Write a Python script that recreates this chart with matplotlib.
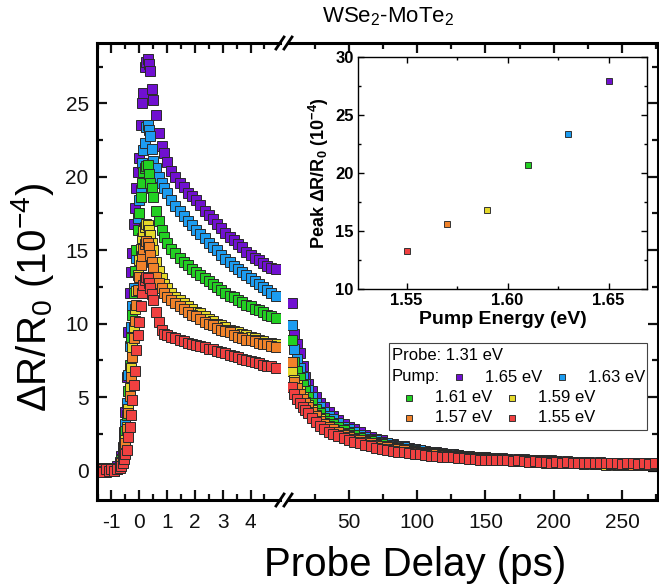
import matplotlib
matplotlib.use('Agg')
import matplotlib.pyplot as plt
from matplotlib.patches import Rectangle
from matplotlib.lines import Line2D
from matplotlib.ticker import MultipleLocator, FixedLocator

plt.rcParams['font.family'] = ['Liberation Sans', 'DejaVu Sans']
plt.rcParams['mathtext.fontset'] = 'custom'
plt.rcParams['mathtext.rm'] = 'Liberation Sans'
plt.rcParams['mathtext.default'] = 'regular'
plt.rcParams['axes.unicode_minus'] = False

# probe delay (ps), short window before the axis break
t_short = [-1.5, -1.4, -1.3, -1.2, -1.1, -1.0, -0.9, -0.8,
           -0.7, -0.65, -0.6, -0.55, -0.5, -0.45, -0.4, -0.35, -0.3, -0.25,
           -0.2, -0.15, -0.1, -0.05, 0.0, 0.05, 0.1, 0.15, 0.2, 0.25, 0.3,
           0.35, 0.4, 0.45, 0.5, 0.6, 0.7, 0.8, 0.9, 1.0,
           1.15, 1.3, 1.45, 1.6, 1.75, 1.9, 2.05, 2.2, 2.35, 2.5, 2.65, 2.8,
           2.95, 3.1, 3.25, 3.4, 3.55, 3.7, 3.85, 4.0, 4.15, 4.3, 4.45, 4.6,
           4.75, 4.9]
# probe delay (ps), long window after the axis break
t_long = [8, 10, 12, 14, 16, 18, 20, 23, 26, 29, 32, 35, 38, 42, 46, 50,
          54, 58, 62, 66, 70, 74, 78, 82, 86, 90, 94, 98, 102, 106, 110, 114,
          118, 122, 126, 130, 134, 138, 142, 146, 150, 154, 158, 162, 166, 170,
          174, 178, 182, 186, 190, 194, 198, 202, 206, 210, 214, 218, 222, 226,
          230, 234, 238, 242, 246, 250, 254, 258, 262, 266, 270, 274]

pump_labels = ['1.65 eV', '1.63 eV', '1.61 eV', '1.59 eV', '1.57 eV', '1.55 eV']
colors = ['#7010d0', '#1c9cf0', '#22d022', '#e4d82a', '#f0822a', '#f04040']

# dR/R0 (1e-4), short window
short_165 = [0.2, 0.0, 0.1, 0.2, 0.0, 0.1, 0.2, 0.3,
             0.6, 1.0, 1.6, 2.6, 4.0, 6.4, 9.4, 12.1, 13.5, 14.8,
             16.8, 17.9, 19.2, 20.3, 21.3, 23.5, 25.0, 25.7, 27.5, 27.8, 28.0,
             27.7, 27.2, 26.0, 25.2, 24.2, 23.0, 22.1, 21.6, 21.0,
             20.4, 20.0, 19.6, 19.3, 18.9, 18.7, 18.4, 18.1, 17.7, 17.4, 17.1, 16.8,
             16.5, 16.2, 15.9, 15.7, 15.4, 15.2, 14.9, 14.7, 14.5, 14.3, 14.1, 13.9,
             13.8, 13.7]
short_163 = [0.1, 0.2, 0.0, 0.1, 0.2, 0.1, 0.0, 0.2,
             0.5, 0.8, 1.3, 2.1, 3.2, 4.6, 6.5, 8.5, 9.8, 11.2,
             12.4, 13.5, 14.5, 17.2, 18.4, 19.1, 20.9, 21.8, 22.3, 23.4, 23.5,
             23.2, 22.8, 21.9, 21.1, 20.6, 20.0, 19.6, 19.2, 18.9,
             18.4, 18.0, 17.7, 17.3, 17.0, 16.7, 16.4, 16.1, 15.8, 15.5, 15.2, 15.0,
             14.7, 14.4, 14.2, 13.9, 13.7, 13.5, 13.3, 13.1, 12.9, 12.7, 12.5, 12.3,
             12.1, 11.9]
short_161 = [0.2, 0.1, 0.0, 0.2, 0.1, 0.0, 0.1, 0.2,
             0.4, 0.7, 1.1, 1.8, 2.7, 3.8, 5.4, 7.2, 9.0, 10.6,
             12.1, 13.6, 15.0, 16.4, 17.5, 18.6, 19.6, 20.3, 20.6, 20.7, 20.8,
             20.2, 19.6, 19.2, 18.6, 17.7, 17.0, 16.4, 15.9, 15.5,
             15.1, 14.8, 14.5, 14.2, 14.0, 13.7, 13.5, 13.3, 13.1, 12.9, 12.7, 12.5,
             12.3, 12.1, 11.9, 11.8, 11.6, 11.5, 11.3, 11.2, 11.0, 10.9, 10.8, 10.6,
             10.5, 10.4]
short_159 = [0.1, 0.0, 0.2, 0.1, 0.0, 0.1, 0.1, 0.2,
             0.3, 0.6, 0.9, 1.4, 2.1, 3.0, 4.2, 5.6, 7.0, 8.4,
             9.8, 11.0, 12.2, 13.3, 14.3, 15.1, 15.8, 16.3, 16.6, 16.8, 16.7,
             16.4, 16.0, 15.5, 15.0, 14.2, 13.6, 13.1, 12.7, 12.4,
             12.1, 11.8, 11.6, 11.4, 11.2, 11.0, 10.8, 10.7, 10.5, 10.3, 10.2, 10.0,
             9.9, 9.8, 9.6, 9.5, 9.4, 9.3, 9.2, 9.1, 9.0, 8.9, 8.8, 8.7,
             8.7, 8.6]
short_157 = [0.0, 0.1, 0.0, -0.1, 0.1, 0.0, 0.1, 0.1,
             0.3, 0.5, 0.8, 1.3, 1.9, 2.8, 3.9, 5.1, 6.4, 7.7,
             9.0, 10.2, 11.3, 12.3, 13.2, 14.0, 14.6, 15.1, 15.4, 15.6, 15.5,
             15.2, 14.7, 14.2, 13.8, 13.2, 12.8, 12.4, 12.1, 11.8,
             11.6, 11.4, 11.2, 11.0, 10.8, 10.6, 10.5, 10.3, 10.1, 10.0, 9.9, 9.7,
             9.6, 9.5, 9.4, 9.2, 9.1, 9.0, 8.9, 8.9, 8.8, 8.7, 8.6, 8.6,
             8.5, 8.4]
short_155 = [0.1, 0.0, -0.1, 0.1, 0.0, 0.1, 0.0, 0.1,
             0.2, 0.3, 0.5, 0.8, 1.1, 1.4, 2.3, 3.0, 3.8, 4.8,
             5.8, 6.8, 8.2, 9.2, 10.1, 11.2, 12.1, 12.6, 13.0, 13.2, 13.1,
             12.8, 12.4, 12.0, 11.6, 10.8, 10.1, 9.6, 9.3, 9.2,
             9.1, 9.0, 8.9, 8.8, 8.7, 8.6, 8.55, 8.5, 8.4, 8.3, 8.25, 8.15,
             8.05, 8.0, 7.9, 7.8, 7.7, 7.6, 7.5, 7.45, 7.4, 7.3, 7.2, 7.15,
             7.1, 7.0]

# dR/R0 (1e-4), long window
long_165 = [11.4, 9.3, 8.6, 8.0, 7.1, 6.4, 5.9, 5.4, 5.0, 4.6, 4.3, 4.0, 3.75, 3.45, 3.2, 3.0,
            2.8, 2.6, 2.45, 2.3, 2.15, 2.05, 1.9, 1.8, 1.7, 1.65, 1.55, 1.5, 1.4, 1.35, 1.3, 1.25,
            1.2, 1.15, 1.1, 1.05, 1.0, 1.0, 0.95, 0.9, 0.9, 0.85, 0.8, 0.85, 0.8, 0.75,
            0.8, 0.7, 0.75, 0.7, 0.65, 0.7, 0.6, 0.65, 0.6, 0.55, 0.6, 0.55, 0.6, 0.5,
            0.55, 0.5, 0.55, 0.45, 0.5, 0.55, 0.45, 0.5, 0.5, 0.45, 0.5, 0.45]
long_163 = [9.9, 8.3, 7.6, 7.0, 6.4, 5.9, 5.5, 5.0, 4.6, 4.3, 4.0, 3.7, 3.5, 3.25, 3.0, 2.8,
            2.6, 2.45, 2.3, 2.15, 2.05, 1.95, 1.85, 1.75, 1.65, 1.6, 1.5, 1.45, 1.4, 1.3, 1.3, 1.2,
            1.15, 1.1, 1.1, 1.05, 1.0, 0.95, 0.95, 0.9, 0.9, 0.85, 0.85, 0.8, 0.8, 0.75,
            0.75, 0.8, 0.7, 0.75, 0.7, 0.65, 0.7, 0.65, 0.6, 0.65, 0.6, 0.6, 0.55, 0.6,
            0.55, 0.6, 0.5, 0.55, 0.55, 0.5, 0.55, 0.5, 0.55, 0.5, 0.5, 0.45]
long_161 = [8.9, 7.4, 6.8, 6.3, 5.8, 5.4, 5.0, 4.6, 4.2, 3.9, 3.6, 3.4, 3.2, 3.0, 2.75, 2.55,
            2.4, 2.25, 2.1, 2.0, 1.9, 1.8, 1.7, 1.6, 1.55, 1.5, 1.4, 1.35, 1.3, 1.25, 1.2, 1.15,
            1.1, 1.05, 1.0, 1.0, 0.95, 0.9, 0.9, 0.85, 0.85, 0.8, 0.8, 0.75, 0.75, 0.7,
            0.75, 0.7, 0.65, 0.7, 0.65, 0.6, 0.65, 0.6, 0.6, 0.55, 0.6, 0.55, 0.5, 0.55,
            0.5, 0.55, 0.5, 0.5, 0.45, 0.5, 0.45, 0.5, 0.4, 0.45, 0.4, 0.45]
long_159 = [6.8, 6.2, 5.8, 5.4, 5.0, 4.7, 4.45, 4.1, 3.8, 3.5, 3.25, 3.05, 2.85, 2.65, 2.5, 2.35,
            2.2, 2.1, 2.0, 1.9, 1.8, 1.7, 1.6, 1.55, 1.5, 1.4, 1.35, 1.3, 1.25, 1.2, 1.15, 1.1,
            1.05, 1.0, 1.0, 0.95, 0.9, 0.9, 0.85, 0.8, 0.8, 0.75, 0.75, 0.7, 0.7, 0.7,
            0.65, 0.65, 0.6, 0.6, 0.6, 0.55, 0.6, 0.55, 0.5, 0.55, 0.5, 0.5, 0.45, 0.5,
            0.45, 0.45, 0.4, 0.45, 0.4, 0.45, 0.4, 0.45, 0.4, 0.4, 0.35, 0.4]
long_157 = [7.4, 6.0, 5.6, 5.2, 4.9, 4.6, 4.35, 4.0, 3.7, 3.4, 3.15, 2.95, 2.8, 2.6, 2.45, 2.3,
            2.15, 2.05, 1.95, 1.85, 1.75, 1.65, 1.6, 1.5, 1.45, 1.4, 1.3, 1.25, 1.2, 1.15, 1.1, 1.1,
            1.05, 1.0, 0.95, 0.95, 0.9, 0.85, 0.85, 0.8, 0.8, 0.8, 0.75, 0.75, 0.7, 0.7,
            0.65, 0.7, 0.65, 0.6, 0.65, 0.6, 0.6, 0.55, 0.6, 0.55, 0.5, 0.55, 0.5, 0.55,
            0.45, 0.5, 0.5, 0.45, 0.5, 0.45, 0.5, 0.4, 0.45, 0.45, 0.4, 0.45]
long_155 = [5.7, 5.2, 4.9, 4.6, 4.3, 4.1, 3.9, 3.6, 3.3, 3.05, 2.85, 2.65, 2.5, 2.35, 2.2, 2.05,
            1.95, 1.85, 1.75, 1.65, 1.55, 1.5, 1.4, 1.35, 1.3, 1.25, 1.2, 1.15, 1.1, 1.05, 1.0, 1.0,
            0.95, 0.9, 0.9, 0.85, 0.85, 0.8, 0.8, 0.75, 0.75, 0.75, 0.7, 0.7, 0.7, 0.65,
            0.7, 0.65, 0.6, 0.65, 0.6, 0.6, 0.55, 0.6, 0.55, 0.6, 0.55, 0.5, 0.55, 0.5,
            0.55, 0.5, 0.5, 0.55, 0.5, 0.45, 0.5, 0.5, 0.45, 0.5, 0.45, 0.5]

short_all = [short_165, short_163, short_161, short_159, short_157, short_155]
long_all = [long_165, long_163, long_161, long_159, long_157, long_155]

# inset: peak signal vs pump energy
pump_energy = [1.65, 1.63, 1.61, 1.59, 1.57, 1.55]
peak_signal = [27.9, 23.4, 20.7, 16.8, 15.6, 13.3]

W, H = 659, 588
def box(x0, y0, x1, y1):
    return [x0 / W, 1 - y1 / H, (x1 - x0) / W, (y1 - y0) / H]

def fx(x):
    return x / W

def fy(y):
    return 1 - y / H

fig = plt.figure(figsize=(W / 100, H / 100), dpi=100)
ax1 = fig.add_axes(box(97, 43, 280, 500))
ax2 = fig.add_axes(box(288, 43, 658, 500), sharey=ax1)

for s_vals, l_vals, c in zip(short_all, long_all, colors):
    ax1.plot(t_short, s_vals, 's', ms=7.3, mfc=c, mec='#2a2a2a', mew=0.7)
    ax2.plot(t_long, l_vals, 's', ms=7.3, mfc=c, mec='#2a2a2a', mew=0.7)

ax1.set_xlim(-1.52, 5.06)
ax2.set_xlim(5.3, 276.4)
ax1.set_ylim(-2.0, 29.1)

ax1.xaxis.set_major_locator(FixedLocator([-1, 0, 1, 2, 3, 4]))
ax1.xaxis.set_minor_locator(FixedLocator([-1.5, -0.5, 0.5, 1.5, 2.5, 3.5, 4.5]))
ax2.xaxis.set_major_locator(MultipleLocator(50))
ax2.xaxis.set_minor_locator(MultipleLocator(25))
ax1.yaxis.set_major_locator(MultipleLocator(5))
ax1.yaxis.set_minor_locator(MultipleLocator(2.5))

for ax in (ax1, ax2):
    for sp in ax.spines.values():
        sp.set_linewidth(2.2)
    ax.tick_params(which='both', direction='in', width=1.6, labelsize=15,
                   colors='#111111', top=True)
    ax.tick_params(which='major', length=7)
    ax.tick_params(which='minor', length=4)
    ax.tick_params(axis='x', pad=9)
    ax.tick_params(axis='y', pad=6)
ax1.spines['right'].set_visible(False)
ax2.spines['left'].set_visible(False)
ax1.tick_params(axis='y', which='both', right=False)
ax2.tick_params(axis='y', which='both', left=False, right=True, labelleft=False)

fig.text(fx(33), fy(297), 'ΔR/R$_0$ (10$^{-4}$)', fontsize=29, rotation=90,
         ha='center', va='center')
fig.text(fx(415), fy(565), 'Probe Delay (ps)', fontsize=29, ha='center', va='center')
fig.text(fx(388), fy(17), 'WSe$_2$-MoTe$_2$', fontsize=16, ha='center', va='center')

# axis break marks
for yb in (43, 500):
    for xb in (280, 288):
        fig.add_artist(Line2D([fx(xb - 4), fx(xb + 4)], [fy(yb + 6), fy(yb - 6)],
                              transform=fig.transFigure, color='black', lw=2))

# inset
axin = fig.add_axes(box(358, 57, 647, 289))
for e, p, c in zip(pump_energy, peak_signal, colors):
    axin.plot([e], [p], 's', ms=5, mfc=c, mec='#333333', mew=0.7)
axin.set_xlim(1.526, 1.669)
axin.set_ylim(10, 30)
axin.xaxis.set_major_locator(MultipleLocator(0.05))
axin.xaxis.set_minor_locator(MultipleLocator(0.025))
axin.yaxis.set_major_locator(MultipleLocator(5))
axin.yaxis.set_minor_locator(MultipleLocator(2.5))
axin.tick_params(which='both', direction='in', top=True, right=True, width=1,
                 labelsize=12, pad=3)
axin.tick_params(which='major', length=4)
axin.tick_params(which='minor', length=2.5)
axin.set_xticks([1.55, 1.60, 1.65])
axin.set_xticklabels(['1.55', '1.60', '1.65'])
for lab in axin.get_xticklabels() + axin.get_yticklabels():
    lab.set_fontweight('bold')
for sp in axin.spines.values():
    sp.set_linewidth(1.0)
axin.set_xlabel('Pump Energy (eV)', fontsize=14, fontweight='bold', labelpad=2)
axin.set_ylabel('Peak ΔR/R$_0$ (10$^{-4}$)', fontsize=13, fontweight='bold', labelpad=3)

# legend box
fig.add_artist(Rectangle((fx(389), fy(430)), fx(647) - fx(389), fy(343) - fy(430),
                         transform=fig.transFigure, facecolor='white',
                         edgecolor='#444444', lw=0.8))
fig.text(fx(392), fy(355), 'Probe: 1.31 eV', fontsize=12, ha='left', va='center')
fig.text(fx(392), fy(377), 'Pump:', fontsize=12, ha='left', va='center')
slots = [(459, 377), (562, 377), (409, 398), (512, 398), (409, 418), (512, 418)]
for (sx, sy), c, lab in zip(slots, colors, pump_labels):
    fig.add_artist(Line2D([fx(sx)], [fy(sy)], transform=fig.transFigure, marker='s',
                          ms=5, mfc=c, mec='#333333', mew=0.7, ls='none'))
    fig.text(fx(sx + 26), fy(sy), lab, fontsize=12, ha='left', va='center')

fig.savefig('out.png', dpi=100)
